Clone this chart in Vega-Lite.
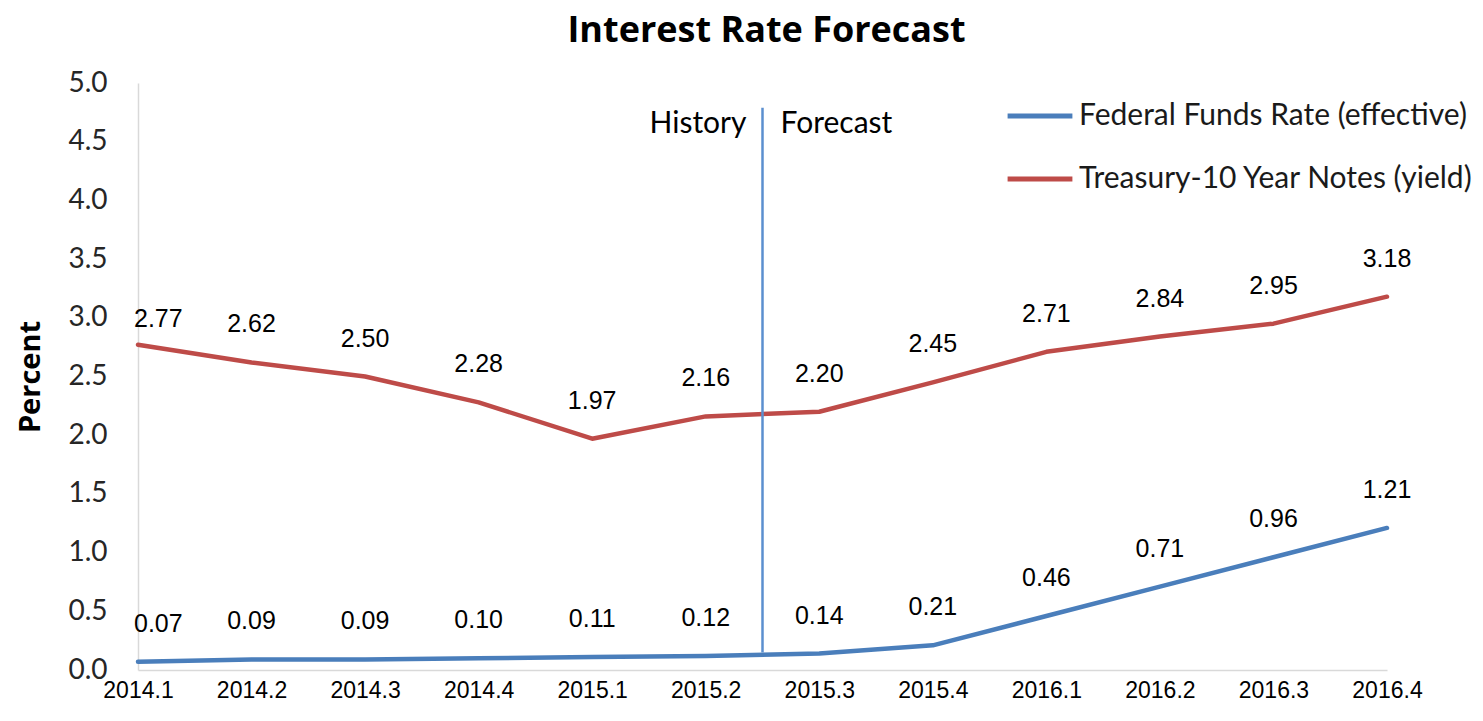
{
  "$schema": "https://vega.github.io/schema/vega-lite/v6.json",
  "autosize": "none",
  "width": 1249,
  "height": 587,
  "padding": {"left": 138, "top": 83, "right": 96, "bottom": 51},
  "background": "white",
  "title": {
    "text": "Interest Rate Forecast",
    "font": "Open Sans",
    "fontSize": 36,
    "fontWeight": "bold",
    "color": "#000000",
    "anchor": "middle",
    "dx": 4,
    "offset": 19
  },
  "config": {
    "view": {"stroke": null},
    "axis": {"grid": false, "ticks": false, "domainColor": "#d9d9d9", "domainWidth": 1.5}
  },
  "datasets": {
    "series": [
      {"idx": 0, "quarter": "2014.1", "series": "Federal Funds Rate (effective)", "rate": 0.07},
      {"idx": 1, "quarter": "2014.2", "series": "Federal Funds Rate (effective)", "rate": 0.09},
      {"idx": 2, "quarter": "2014.3", "series": "Federal Funds Rate (effective)", "rate": 0.09},
      {"idx": 3, "quarter": "2014.4", "series": "Federal Funds Rate (effective)", "rate": 0.10},
      {"idx": 4, "quarter": "2015.1", "series": "Federal Funds Rate (effective)", "rate": 0.11},
      {"idx": 5, "quarter": "2015.2", "series": "Federal Funds Rate (effective)", "rate": 0.12},
      {"idx": 6, "quarter": "2015.3", "series": "Federal Funds Rate (effective)", "rate": 0.14},
      {"idx": 7, "quarter": "2015.4", "series": "Federal Funds Rate (effective)", "rate": 0.21},
      {"idx": 8, "quarter": "2016.1", "series": "Federal Funds Rate (effective)", "rate": 0.46},
      {"idx": 9, "quarter": "2016.2", "series": "Federal Funds Rate (effective)", "rate": 0.71},
      {"idx": 10, "quarter": "2016.3", "series": "Federal Funds Rate (effective)", "rate": 0.96},
      {"idx": 11, "quarter": "2016.4", "series": "Federal Funds Rate (effective)", "rate": 1.21},
      {"idx": 0, "quarter": "2014.1", "series": "Treasury-10 Year Notes (yield)", "rate": 2.77},
      {"idx": 1, "quarter": "2014.2", "series": "Treasury-10 Year Notes (yield)", "rate": 2.62},
      {"idx": 2, "quarter": "2014.3", "series": "Treasury-10 Year Notes (yield)", "rate": 2.50},
      {"idx": 3, "quarter": "2014.4", "series": "Treasury-10 Year Notes (yield)", "rate": 2.28},
      {"idx": 4, "quarter": "2015.1", "series": "Treasury-10 Year Notes (yield)", "rate": 1.97},
      {"idx": 5, "quarter": "2015.2", "series": "Treasury-10 Year Notes (yield)", "rate": 2.16},
      {"idx": 6, "quarter": "2015.3", "series": "Treasury-10 Year Notes (yield)", "rate": 2.20},
      {"idx": 7, "quarter": "2015.4", "series": "Treasury-10 Year Notes (yield)", "rate": 2.45},
      {"idx": 8, "quarter": "2016.1", "series": "Treasury-10 Year Notes (yield)", "rate": 2.71},
      {"idx": 9, "quarter": "2016.2", "series": "Treasury-10 Year Notes (yield)", "rate": 2.84},
      {"idx": 10, "quarter": "2016.3", "series": "Treasury-10 Year Notes (yield)", "rate": 2.95},
      {"idx": 11, "quarter": "2016.4", "series": "Treasury-10 Year Notes (yield)", "rate": 3.18}
    ],
    "divider": [{"idx": 5.5, "top": 4.79, "bottom": 0.15}],
    "notes": [
      {"idx": 5.5, "y": 4.65, "label": "History", "side": "left"},
      {"idx": 5.5, "y": 4.65, "label": "Forecast", "side": "right"}
    ]
  },
  "layer": [
    {
      "data": {"name": "series"},
      "mark": {"type": "line", "strokeWidth": 4.5, "strokeCap": "round", "strokeJoin": "round"},
      "encoding": {
        "x": {
          "field": "idx",
          "type": "quantitative",
          "scale": {"domain": [0, 11], "nice": false, "zero": false},
          "axis": {
            "title": null,
            "values": [0, 1, 2, 3, 4, 5, 6, 7, 8, 9, 10, 11],
            "labelExpr": "['2014.1','2014.2','2014.3','2014.4','2015.1','2015.2','2015.3','2015.4','2016.1','2016.2','2016.3','2016.4'][datum.value]",
            "labelFont": "Liberation Sans",
            "labelFontSize": 23,
            "labelColor": "#000000",
            "labelPadding": 9,
            "labelFlush": false,
            "labelOverlap": false
          }
        },
        "y": {
          "field": "rate",
          "type": "quantitative",
          "scale": {"domain": [0, 5], "nice": false},
          "axis": {
            "title": "Percent",
            "titleFont": "Open Sans",
            "titleFontSize": 29,
            "titleFontWeight": "bold",
            "titleColor": "#000000",
            "titlePadding": 22,
            "values": [0, 0.5, 1, 1.5, 2, 2.5, 3, 3.5, 4, 4.5, 5],
            "format": ".1f",
            "labelFont": "Lato",
            "labelFontSize": 28,
            "labelColor": "#262626",
            "labelPadding": 31,
            "labelFlush": false
          }
        },
        "color": {
          "field": "series",
          "type": "nominal",
          "scale": {
            "domain": ["Federal Funds Rate (effective)", "Treasury-10 Year Notes (yield)"],
            "range": ["#4a7ebb", "#be4b48"]
          },
          "legend": {
            "title": null,
            "orient": "none",
            "legendX": 867,
            "legendY": -2,
            "symbolType": "stroke",
            "symbolStrokeWidth": 5,
            "symbolSize": 4200,
            "labelFont": "Lato",
            "labelFontSize": 30,
            "labelColor": "#1a1a1a",
            "labelLimit": 600,
            "rowPadding": 13,
            "labelOffset": 4
          }
        }
      }
    },
    {
      "data": {"name": "series"},
      "mark": {
        "type": "text",
        "font": "Liberation Sans",
        "fontSize": 25,
        "color": "#000000",
        "baseline": "middle",
        "dy": {"expr": "datum.idx == 0 && datum.rate > 1 ? -26 : -38"},
        "align": {"expr": "datum.idx == 0 ? 'left' : 'center'"},
        "dx": {"expr": "datum.idx == 0 ? -4 : 0"}
      },
      "encoding": {
        "x": {"field": "idx", "type": "quantitative"},
        "y": {"field": "rate", "type": "quantitative"},
        "text": {"field": "rate", "type": "quantitative", "format": ".2f"}
      }
    },
    {
      "data": {"name": "divider"},
      "mark": {"type": "rule", "color": "#5b8fcf", "strokeWidth": 2.5},
      "encoding": {
        "x": {"field": "idx", "type": "quantitative"},
        "y": {"field": "top", "type": "quantitative"},
        "y2": {"field": "bottom"}
      }
    },
    {
      "data": {"name": "notes"},
      "transform": [{"filter": "datum.side == 'left'"}],
      "mark": {"type": "text", "font": "Lato", "fontSize": 30, "color": "#000000", "align": "right", "baseline": "middle", "dx": -16},
      "encoding": {
        "x": {"field": "idx", "type": "quantitative"},
        "y": {"field": "y", "type": "quantitative"},
        "text": {"field": "label"}
      }
    },
    {
      "data": {"name": "notes"},
      "transform": [{"filter": "datum.side == 'right'"}],
      "mark": {"type": "text", "font": "Lato", "fontSize": 30, "color": "#000000", "align": "left", "baseline": "middle", "dx": 18},
      "encoding": {
        "x": {"field": "idx", "type": "quantitative"},
        "y": {"field": "y", "type": "quantitative"},
        "text": {"field": "label"}
      }
    }
  ]
}
